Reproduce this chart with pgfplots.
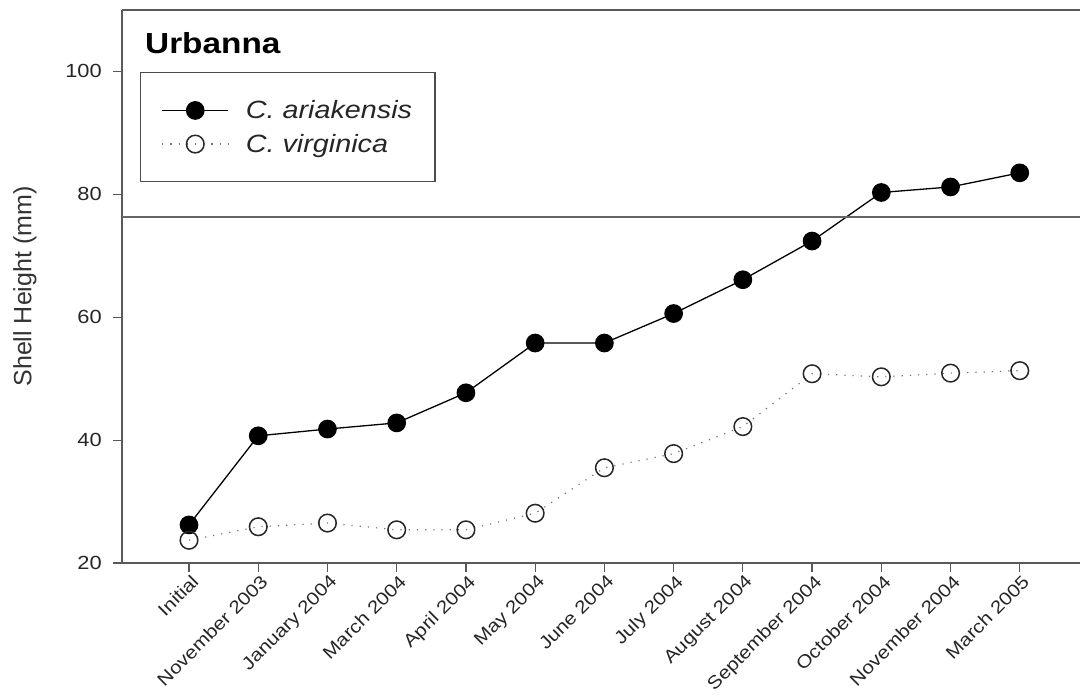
\documentclass[border=0pt]{standalone}
\usepackage{fontspec}
\setmainfont[FakeStretch=1.15]{Liberation Sans}
\newfontfamily\plainfont{Liberation Sans}
\usepackage{pgfplots}
\pgfplotsset{compat=1.18}
\pgfplotstableread{
x aria virg
0 26.2 23.7
1 40.7 25.9
2 41.8 26.5
3 42.8 25.4
4 47.7 25.4
5 55.8 28.1
6 55.8 35.5
7 60.6 37.8
8 66.1 42.2
9 72.4 50.8
10 80.3 50.3
11 81.2 50.9
12 83.5 51.3
}\datatable
\begin{document}
\begin{tikzpicture}[x=1pt,y=1pt]
\begin{axis}[
  at={(122pt,133pt)}, anchor=south west,
  scale only axis, width=958pt, height=553pt,
  xmin=-0.968, xmax=12.87, ymin=20, ymax=110,
  axis x line*=bottom, axis y line*=left,
  axis line style={draw=black!65, line width=1.5pt, -},
  xtick={0,...,12},
  xticklabels={Initial, November 2003, January 2004, March 2004, April 2004, May 2004, June 2004, July 2004, August 2004, September 2004, October 2004, November 2004, March 2005},
  ytick={20,40,60,80,100},
  tick style={draw=black!65, line width=1.2pt},
  tick align=outside, major tick length=9pt,
  x tick label style={rotate=45, anchor=north east, inner sep=1pt, xshift=1pt, yshift=-1pt, font=\fontsize{18}{18}\selectfont, text=black!85},
  y tick label style={inner sep=1pt, xshift=-10pt, font=\fontsize{19}{19}\selectfont, text=black!85},
  /pgf/number format/assume math mode=true,
  ylabel={Shell Height (mm)},
  every axis y label/.style={at={(axis description cs:0,0.5)}, xshift=-97pt, rotate=90, anchor=center, font=\plainfont\fontsize{25}{25}\selectfont, color=black!80},
  legend style={at={(axis description cs:0.0188,0.8878)}, anchor=north west, draw=black!70, line width=1.2pt, font=\itshape\fontsize{25}{25}\selectfont, inner xsep=21pt, inner ysep=26pt, row sep=10pt, text=black!85},
  legend cell align=left,
  legend image code/.code={\draw[mark repeat=2,mark phase=2,#1] plot coordinates {(0pt,0pt) (33pt,0pt) (66pt,0pt)}; \path (81pt,0pt);},
  clip=false,
]
\addplot[black, line width=1.3pt, mark=*, mark size=8.7pt, mark options={solid, fill=black}] table[x=x, y=aria] {\datatable};
\addlegendentry{C. ariakensis}
\addplot[black!55, line width=1.2pt, dash pattern=on 1.2pt off 7pt, mark=o, mark size=8.8pt, mark options={solid, draw=black!85, fill=white, line width=1.5pt}] table[x=x, y=virg] {\datatable};
\addlegendentry{C. virginica}
\draw[black!65, line width=1.5pt] (rel axis cs:0,1) -- (rel axis cs:1,1);
\draw[black!60, line width=2pt] (rel axis cs:0,0.6260) -- (rel axis cs:1,0.6260);
\node[anchor=base west, inner sep=0pt, font=\bfseries\fontsize{29}{29}\selectfont] at (axis description cs:0.024,0.922) {Urbanna};
\end{axis}
\pgfresetboundingbox
\path (0pt,0pt) rectangle (1080pt,696pt);
\end{tikzpicture}
\end{document}
